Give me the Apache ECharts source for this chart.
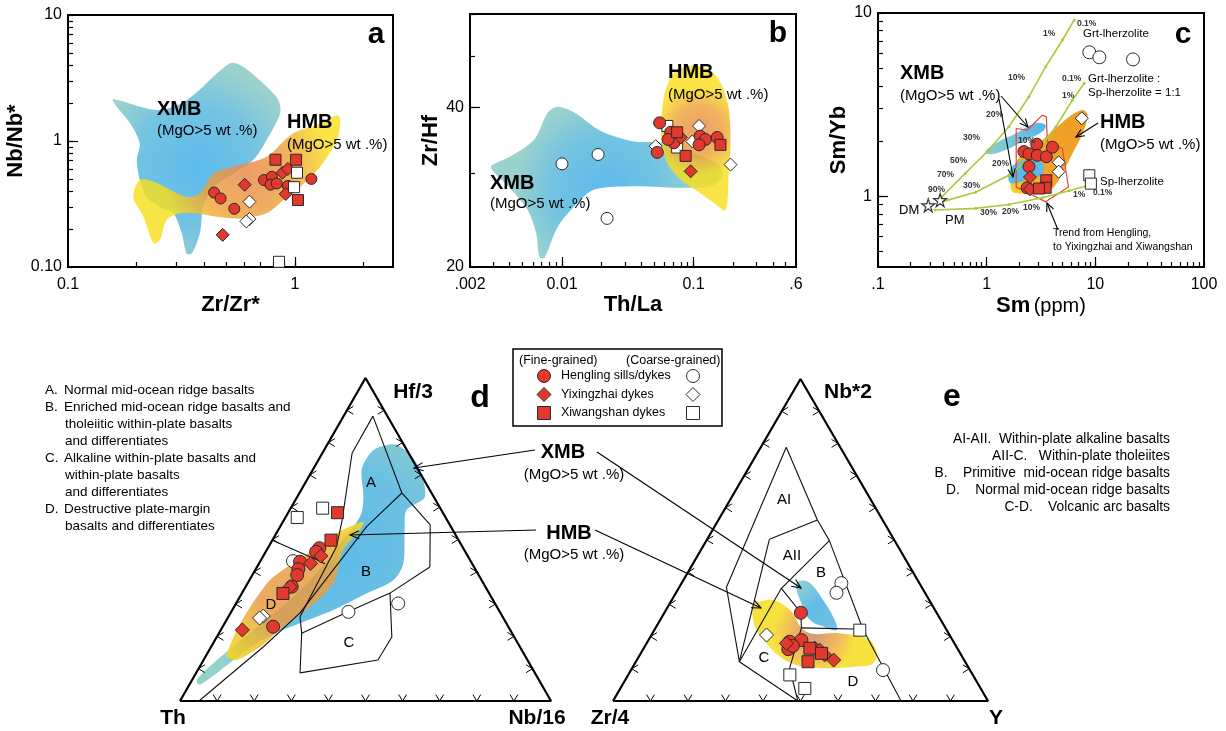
<!DOCTYPE html>
<html><head><meta charset="utf-8">
<script src="https://cdn.jsdelivr.net/npm/echarts/dist/echarts.min.js"></script>
<style>html,body{margin:0;padding:0;background:#fff}#c{width:1226px;height:731px}</style>
</head><body><div id="c"></div>
<script>
// ---------------- DATA ----------------
// Panel a: x = Zr/Zr*, y = Nb/Nb*
const aHenglingFine = [[0.44,0.39],[0.47,0.35],[0.54,0.29],[0.73,0.49],[0.79,0.52],[0.78,0.45],[0.83,0.46],[0.93,0.44],[1.18,0.50]];
const aYixingzhaiFine = [[0.60,0.45],[0.88,0.56],[0.93,0.60],[0.91,0.38],[0.48,0.18]];
const aXiwangshanFine = [[0.82,0.71],[1.01,0.71],[1.03,0.34]];
const aYixingzhaiCoarse = [[0.63,0.33],[0.63,0.24],[0.61,0.23]];
const aXiwangshanCoarse = [[1.02,0.56],[0.99,0.43],[0.85,0.11]];
const aXMB = [[0.158,2.14],[0.246,1.76],[0.333,2.11],[0.517,4.14],[0.59,3.89],[0.75,2.70],[0.845,2.11],[0.86,1.66],[0.75,1.02],[0.655,0.71],[0.535,0.55],[0.437,0.43],[0.394,0.30],[0.381,0.185],[0.351,0.128],[0.333,0.128],[0.317,0.185],[0.291,0.267],[0.254,0.30],[0.222,0.36],[0.207,0.49],[0.201,0.71],[0.207,0.96],[0.188,1.38],[0.164,1.87]];
const aHMB = [[0.207,0.49],[0.238,0.475],[0.333,0.36],[0.381,0.385],[0.437,0.55],[0.535,0.625],[0.75,0.75],[0.98,1.15],[1.29,1.38],[1.53,1.61],[1.58,1.47],[1.53,1.02],[1.29,0.625],[1.05,0.43],[0.89,0.34],[0.75,0.267],[0.57,0.243],[0.452,0.25],[0.369,0.267],[0.311,0.267],[0.272,0.236],[0.254,0.164],[0.238,0.154],[0.215,0.25],[0.194,0.36]];

// Panel b: x = Th/La, y = Zr/Hf
const bHenglingFine = [[0.0552,37.4],[0.067,35.9],[0.071,34.3],[0.064,34.8],[0.053,32.9],[0.112,35.3],[0.123,34.8],[0.110,34.0],[0.151,35.1]];
const bYixingzhaiFine = [[0.080,35.1],[0.095,30.3]];
const bXiwangshanFine = [[0.075,35.9],[0.087,32.4],[0.160,34.0]];
const bHenglingCoarse = [[0.010,31.3],[0.0188,32.6],[0.022,24.7]];
const bYixingzhaiCoarse = [[0.0515,33.8],[0.110,36.9],[0.098,34.5],[0.191,31.2]];
const bXiwangshanCoarse = [[0.0632,36.9],[0.075,33.6]];
const bXMB = [[0.0029,31.0],[0.00411,32.4],[0.00617,34.8],[0.0078,39.1],[0.00927,40.1],[0.0124,39.1],[0.0197,36.1],[0.0353,34.5],[0.0596,34.3],[0.113,32.4],[0.160,31.0],[0.165,29.7],[0.135,28.4],[0.0845,28.2],[0.0353,28.4],[0.0176,28.0],[0.0131,26.4],[0.00927,23.8],[0.00735,20.8],[0.00673,20.9],[0.00636,23.2],[0.0055,25.6],[0.00411,28.0],[0.00307,30.1]];
const bHMB = [[0.0596,42.0],[0.071,46.5],[0.095,47.9],[0.135,46.9],[0.165,43.9],[0.185,39.7],[0.191,34.8],[0.185,30.1],[0.175,25.6],[0.143,26.4],[0.107,27.8],[0.080,29.2],[0.0632,31.4],[0.057,34.8]];

// Panel c: x = Sm (ppm), y = Sm/Yb
const cHenglingFine = [[2.20,1.75],[2.89,1.92],[2.45,1.70],[2.92,1.67],[3.54,1.64],[4.03,1.85],[2.45,1.45],[2.36,1.11]];
const cYixingzhaiFine = [[2.50,1.27],[2.50,1.09]];
const cXiwangshanFine = [[3.54,1.22],[3.49,1.11],[3.03,1.10]];
const cHenglingCoarse = [[8.8,6.10],[10.9,5.73],[22.2,5.58]];
const cYixingzhaiCoarse = [[7.5,2.66],[4.6,1.53],[4.6,1.36]];
const cXiwangshanCoarse = [[8.8,1.30],[9.1,1.17]];
const cMantle = [[0.29,0.89],[0.373,0.95]]; // DM, PM
const cGrtCurve = [[0.386,0.99],[0.635,1.33],[1.04,1.78],[1.60,2.39],[2.45,3.49],[3.49,5.09],[4.98,7.12],[6.39,9.16]];
const cMixCurve = [[0.386,0.93],[0.79,1.05],[1.60,1.30],[2.82,1.71],[4.33,2.39],[6.16,3.35],[7.91,4.13]];
const cSpCurve = [[0.335,0.84],[0.79,0.857],[1.60,0.90],[3.25,0.98],[5.74,1.07],[9.44,1.16]];
const cHMB = [[1.66,1.22],[1.91,1.57],[2.45,1.82],[3.25,2.02],[5.74,2.71],[7.64,2.95],[8.49,2.77],[7.64,2.20],[6.16,1.71],[4.98,1.33],[4.03,1.10],[3.03,1.03],[2.12,1.03],[1.72,1.06]];
const cXMB1 = [[0.97,1.75],[1.20,1.94],[1.85,2.20],[2.82,2.50],[3.49,2.44],[3.25,2.25],[2.28,2.02],[1.60,1.82],[1.20,1.71],[1.01,1.70]];
const cXMB2 = [[1.60,1.33],[1.85,1.51],[2.45,1.57],[3.25,1.51],[3.25,1.33],[2.28,1.22],[1.66,1.18]];
const cTrend = [[1.87,1.12],[1.87,2.34],[2.36,2.29],[3.25,2.77],[3.54,2.71],[3.62,1.98],[4.98,1.82],[5.66,1.12],[3.49,0.93],[2.50,1.03],[1.87,1.12]];

// Panel d ternary: [Hf/3 %, Nb/16 %] (Th = remainder)
const dHenglingFine = [[47.3,13.9],[43.1,10.8],[40.8,11.5],[39.0,12.1],[35.4,12.4],[23.0,13.6],[46.2,13.6]];
const dYixingzhaiFine = [[42.6,13.9],[44.9,15.5],[35.4,12.0],[22.0,5.8]];
const dXiwangshanFine = [[58.3,13.3],[49.8,15.8],[33.3,11.1]];
const dHenglingCoarse = [[27.6,31.6],[30.2,43.7],[43.3,8.8]];
const dYixingzhaiCoarse = [[26.3,9.3],[25.7,8.6]];
const dXiwangshanCoarse = [[56.8,3.2],[59.7,8.6]];
const dFieldLines = [
  [[88.2,7.9],[76.8,8.0],[56.0,15.7],[47.8,18.3],[26.1,19.3],[21.0,22.3],[8.7,28.0]],
  [[8.7,28.0],[12.7,47.0],[19.8,47.2],[33.4,39.9]],
  [[21.0,22.3],[27.6,31.5],[33.4,39.9],[41.5,46.6]],
  [[88.2,7.9],[64.4,27.6],[54.5,40.2],[41.5,46.6]],
  [[64.4,27.6],[54.0,23.3],[27.2,18.7],[16.8,14.1],[0,5.1]],
  [[49.8,0],[43.7,15.0],[42.5,17.8]]
];
const dXMB = [[78.7,14.5],[79.3,18.8],[73.6,27.0],[63.3,34.4],[59.1,31.5],[52.9,34.1],[42.6,38.9],[37.5,38.8],[33.3,33.6],[28.2,27.2],[24.1,20.3],[19.9,13.4],[12.7,8.1],[5.0,2.9],[6.5,1.25],[12.7,3.6],[22.0,8.8],[32.3,14.4],[40.6,17.4],[48.8,18.7],[57.1,20.0],[63.3,17.8],[71.5,13.2],[76.7,12.9]];
const dHMB = [[14.8,5.2],[24.1,4.2],[36.4,5.2],[40.6,7.5],[46.7,12.5],[51.9,16.2],[55.5,21.6],[52.9,22.0],[46.7,20.6],[36.4,23.1],[29.2,20.4],[23.0,16.3],[16.8,13.2],[12.7,8.9],[13.7,5.7]];

// Panel e ternary: [Nb*2 %, Y %] (Zr/4 = remainder)
const eHenglingFine = [[27.4,36.4],[18.9,40.8],[18.4,37.9],[16.1,38.7],[17.1,39.4]];
const eYixingzhaiFine = [[17.9,37.3],[16.4,45.6],[15.8,47.2],[14.3,49.3],[12.7,52.5]];
const eXiwangshanFine = [[16.4,44.3],[12.2,45.9],[14.8,48.2]];
const eHenglingCoarse = [[36.6,42.6],[33.6,42.8],[9.6,67.2]];
const eYixingzhaiCoarse = [[20.5,30.7]];
const eXiwangshanCoarse = [[22.0,54.8],[8.1,43.1],[3.9,49.2]];
const eFieldLines = [
  [[78.8,6.8],[35.3,12.6],[12.2,27.6],[0,49.3]],
  [[78.8,6.8],[56.2,26.4],[49.8,32.8],[22.3,55.5],[0,76.8]],
  [[50.2,16.6],[56.2,26.4]],
  [[50.2,16.6],[12.2,27.6]],
  [[49.8,32.8],[35.0,27.4],[12.2,27.6]],
  [[35.0,27.4],[27.4,36.4],[22.7,38.9],[10.2,42.0],[0,49.3]],
  [[22.7,38.9],[22.3,55.5]]
];
const eXMB = [[36.6,30.6],[37.0,33.5],[31.4,40.3],[25.2,46.5],[22.0,48.6],[23.1,44.5],[25.2,39.9],[30.3,35.1]];
const eHMB = [[29.8,22.5],[30.8,23.7],[31.4,27.0],[28.3,33.0],[21.5,40.8],[21.0,50.0],[19.5,57.8],[15.8,62.3],[11.7,63.5],[10.7,59.6],[10.2,50.9],[11.2,43.3],[13.8,37.6],[17.9,32.0],[23.1,26.3]];

// ---------------- HELPERS ----------------
const FONT = "'Liberation Sans', Arial, Helvetica, sans-serif";
const RED = '#e2382e', EDGE = '#2a2a2a';
const tern = p => [p[1]/100 + p[0]/200, p[0]/100];
const ternAll = arr => arr.map(tern);

function logTicks(lo, hi){ const out=[]; for(let e=-4;e<=3;e++){ for(let m=1;m<10;m++){ const v=+(m*Math.pow(10,e)).toPrecision(6); if(v>=lo*0.999&&v<=hi*1.001) out.push(v);} } return out; }
function fmt(map){ return v => { for (const k in map){ if (Math.abs(v-(+k))/(+k) < 1e-4) return map[k]; } return ''; }; }

function logAxis(gi, min, max, ticks, labels, name, gap, isY, extra){
  return Object.assign({
    gridIndex: gi, type:'log', logBase:10, min, max,
    axisLine:{show:true, onZero:false, lineStyle:{color:'#000', width:2}},
    axisTick:{show:true, inside:true, length:5, customValues:ticks, lineStyle:{color:'#000', width:1.2}},
    axisLabel:{show:true, customValues:Object.keys(labels).map(Number), formatter:fmt(labels), color:'#000', fontSize:16, fontFamily:FONT, margin: isY?6:10},
    splitLine:{show:false},
    name, nameLocation:'middle', nameGap:gap,
    nameTextStyle:{fontWeight:'bold', fontSize:22, color:'#000', fontFamily:FONT}
  }, extra||{});
}
// overlay axis carrying only the longer decade ticks
function majorAxis(gi, min, max, ticks, pos){
  return {gridIndex:gi, type:'log', logBase:10, min, max, position:pos,
    axisLine:{show:false}, axisLabel:{show:false}, splitLine:{show:false},
    axisTick:{show:true, inside:true, length:10, customValues:ticks, lineStyle:{color:'#000', width:1.2}}};
}
function valAxis(gi){ return {gridIndex:gi, type:'value', min:0, max:1, show:false}; }

function sc(gi, data, kind, filled, size){
  const sym = {c:'circle', d:'diamond', s:'rect'}[kind];
  const sz = kind==='d' ? size+2 : (kind==='s' ? size-1 : size);
  return {type:'scatter', xAxisIndex:gi, yAxisIndex:gi, data, symbol:sym, symbolSize:sz, z:5, silent:true,
    itemStyle:{color: filled?RED:'#fff', borderColor:EDGE, borderWidth:1, opacity:1}};
}
function poly(gi, pts, fill, opacity, smooth, z){
  return {type:'custom', xAxisIndex:gi, yAxisIndex:gi, coordinateSystem:'cartesian2d', data:[pts[0]], silent:true, z:z||1,
    renderItem:(params, api) => ({type:'polygon', shape:{points: pts.map(p => api.coord(p)), smooth: smooth}, style:{fill, opacity, stroke:null}})};
}
function outline(gi, pts, color, width, z){
  return {type:'line', xAxisIndex:gi, yAxisIndex:gi, data:pts, symbol:'none', silent:true, z:z||2,
    lineStyle:{color, width}};
}
const blueGrad = () => ({type:'radial', x:0.5, y:0.55, r:0.6, colorStops:[{offset:0,color:'#55b8ec'},{offset:0.6,color:'#6cc0e0'},{offset:1,color:'#93cfcb'}]});
const hmbGrad = () => ({type:'radial', x:0.55, y:0.45, r:0.65, colorStops:[{offset:0,color:'#e8874a'},{offset:0.55,color:'#eea23a'},{offset:1,color:'#f7df1d'}]});

function chev(p, ang){ const L=7.5, s=0.55; return {type:'polyline', shape:{points:[[p[0]+L*Math.cos(ang-s), p[1]+L*Math.sin(ang-s)], p, [p[0]+L*Math.cos(ang+s), p[1]+L*Math.sin(ang+s)]]}, style:{stroke:'#000', lineWidth:1, fill:null}}; }
function ternFrame(gi){
  return [
    {type:'line', xAxisIndex:gi, yAxisIndex:gi, data:[[0,0],[1,0],[0.5,1],[0,0]], symbol:'none', silent:true, z:4, lineStyle:{color:'#000', width:2.2}},
    {type:'custom', xAxisIndex:gi, yAxisIndex:gi, coordinateSystem:'cartesian2d', data:[[0,0]], silent:true, z:4,
      renderItem:(params, api) => {
        const A=api.coord([0,0]), B=api.coord([1,0]), C=api.coord([0.5,1]); const ch=[];
        for (let i=1;i<=9;i++){ const t=i/10;
          ch.push(chev([A[0]+(B[0]-A[0])*t, A[1]], -Math.PI/2));
          ch.push(chev([A[0]+(C[0]-A[0])*t, A[1]+(C[1]-A[1])*t], 0));
          ch.push(chev([B[0]+(C[0]-B[0])*t, B[1]+(C[1]-B[1])*t], Math.PI));
        }
        return {type:'group', children:ch};
      }}
  ];
}
function T(x,y,text,size,o){ o=o||{}; return {type:'text', x, y, z:100, silent:true,
  style:{text, font:(o.bold?'bold ':'')+size+'px '+FONT, fill:o.color||'#000', align:o.align||'left', verticalAlign:o.valign||'middle'}}; }
function arrow(x1,y1,x2,y2,head,w){ head=head||8; w=w||1.1; const a=Math.atan2(y2-y1,x2-x1), s=0.42;
  return [{type:'polyline', z:100, silent:true, shape:{points:[[x1,y1],[x2,y2]]}, style:{stroke:'#000', lineWidth:w, fill:null}},
          {type:'polyline', z:100, silent:true, shape:{points:[[x2-head*Math.cos(a-s), y2-head*Math.sin(a-s)],[x2,y2],[x2-head*Math.cos(a+s), y2-head*Math.sin(a+s)]]}, style:{stroke:'#000', lineWidth:w, fill:null}}]; }

// ---------------- OPTION ----------------
const grids = [
  {left:68, top:15, width:325, height:252},
  {left:470, top:14, width:326, height:253},
  {left:878, top:13, width:326, height:254},
  {left:180, top:378, width:371, height:323},
  {left:613, top:379, width:375, height:322}
].map((g,i) => Object.assign(g, i<3 ? {show:true, borderColor:'#000', borderWidth:2, backgroundColor:'transparent'} : {show:false}));

const xAxes = [
  logAxis(0, 0.1, 2.7, logTicks(0.1,2.7), {0.1:'0.1', 1:'1'}, 'Zr/Zr*', 24, false),
  logAxis(1, 0.002, 0.6, logTicks(0.002,0.6), {0.002:'.002', 0.01:'0.01', 0.1:'0.1', 0.6:'.6'}, 'Th/La', 22, false),
  logAxis(2, 0.1, 100, logTicks(0.1,100), {0.1:'.1', 1:'1', 10:'10', 100:'100'}, '{b|Sm} {n|(ppm)}', 28, false,
    {nameTextStyle:{rich:{b:{fontWeight:'bold', fontSize:22, fontFamily:FONT, color:'#000'}, n:{fontSize:20, fontFamily:FONT, color:'#000'}}}}),
  valAxis(3), valAxis(4),
  majorAxis(0, 0.1, 2.7, [1], 'bottom'),
  majorAxis(1, 0.002, 0.6, [0.01,0.1], 'bottom'),
  majorAxis(2, 0.1, 100, [1,10], 'bottom')
];
const yAxes = [
  logAxis(0, 0.1, 10, logTicks(0.1,10), {0.1:'0.10', 1:'1', 10:'10'}, 'Nb/Nb*', 40, true),
  logAxis(1, 20, 60, [20,30,40,50,60], {20:'20', 40:'40'}, 'Zr/Hf', 26, true),
  logAxis(2, 0.41, 10, logTicks(0.41,10), {1:'1', 10:'10'}, 'Sm/Yb', 20, true),
  valAxis(3), valAxis(4),
  majorAxis(0, 0.1, 10, [1], 'left'),
  majorAxis(1, 20, 60, [40], 'left'),
  majorAxis(2, 0.41, 10, [1], 'left')
];

const series = [
  // a
  poly(0, aXMB, blueGrad(), 0.95, 0.3, 1),
  poly(0, aHMB, hmbGrad(), 0.82, 0.3, 2),
  sc(0, aHenglingFine, 'c', true, 11), sc(0, aYixingzhaiFine, 'd', true, 11), sc(0, aXiwangshanFine, 's', true, 12),
  sc(0, aYixingzhaiCoarse, 'd', false, 11), sc(0, aXiwangshanCoarse, 's', false, 12),
  // b
  poly(1, bXMB, blueGrad(), 0.95, 0.3, 1),
  poly(1, bHMB, hmbGrad(), 0.82, 0.3, 2),
  sc(1, bHenglingCoarse, 'c', false, 12), sc(1, bYixingzhaiCoarse, 'd', false, 11), sc(1, bXiwangshanCoarse, 's', false, 12),
  sc(1, bHenglingFine, 'c', true, 12), sc(1, bYixingzhaiFine, 'd', true, 11), sc(1, bXiwangshanFine, 's', true, 12),
  // c
  poly(2, cHMB, {type:'linear', x:0, y:1, x2:1, y2:0, colorStops:[{offset:0,color:'#f5d21c'},{offset:0.3,color:'#f2a21e'},{offset:1,color:'#ee961a'}]}, 0.95, 0.3, 1),
  poly(2, cXMB1, {type:'linear', x:0, y:0.5, x2:1, y2:0.5, colorStops:[{offset:0,color:'#8fd0cf'},{offset:1,color:'#56b6e6'}]}, 1, 0.4, 2),
  poly(2, cXMB2, '#5cb9e8', 1, 0.4, 2),
  outline(2, cTrend, '#e6453a', 1.2, 3),
  {type:'line', xAxisIndex:2, yAxisIndex:2, data:cGrtCurve, symbol:'circle', symbolSize:3, silent:true, z:3, itemStyle:{color:'#a6cc3c'}, lineStyle:{color:'#a6cc3c', width:1.6}},
  {type:'line', xAxisIndex:2, yAxisIndex:2, data:cMixCurve, symbol:'circle', symbolSize:3, silent:true, z:3, itemStyle:{color:'#a6cc3c'}, lineStyle:{color:'#a6cc3c', width:1.6}},
  {type:'line', xAxisIndex:2, yAxisIndex:2, data:cSpCurve, symbol:'circle', symbolSize:3, silent:true, z:3, itemStyle:{color:'#a6cc3c'}, lineStyle:{color:'#a6cc3c', width:1.6}},
  {type:'scatter', xAxisIndex:2, yAxisIndex:2, data:cMantle, silent:true, z:6, symbol:'path://M50,0 L61,35 L98,35 L68,57 L79,91 L50,70 L21,91 L32,57 L2,35 L39,35 Z', symbolSize:13, itemStyle:{color:'#fff', borderColor:'#000', borderWidth:1.2}},
  sc(2, cHenglingCoarse, 'c', false, 13), sc(2, cYixingzhaiCoarse, 'd', false, 11), sc(2, cXiwangshanCoarse, 's', false, 12),
  sc(2, cHenglingFine, 'c', true, 12), sc(2, cYixingzhaiFine, 'd', true, 11), sc(2, cXiwangshanFine, 's', true, 12),
  // d
  poly(3, ternAll(dXMB), {type:'radial', x:0.6, y:0.45, r:0.7, colorStops:[{offset:0,color:'#55b7e8'},{offset:0.55,color:'#64bde0'},{offset:1,color:'#8fcfc8'}]}, 0.95, 0.3, 1),
  poly(3, ternAll(dHMB), {type:'linear', x:0, y:1, x2:1, y2:0, colorStops:[{offset:0,color:'#f5dc1a'},{offset:0.35,color:'#e99a45'},{offset:0.7,color:'#e8a040'},{offset:1,color:'#f6e21a'}]}, 0.85, 0.3, 2),
  ...dFieldLines.map(l => outline(3, ternAll(l), '#111', 1.1, 3)),
  ...ternFrame(3),
  sc(3, ternAll(dHenglingCoarse), 'c', false, 13), sc(3, ternAll(dYixingzhaiCoarse), 'd', false, 12), sc(3, ternAll(dXiwangshanCoarse), 's', false, 13),
  sc(3, ternAll(dHenglingFine), 'c', true, 13), sc(3, ternAll(dYixingzhaiFine), 'd', true, 12), sc(3, ternAll(dXiwangshanFine), 's', true, 13),
  // e
  poly(4, ternAll(eXMB), {type:'linear', x:0, y:0, x2:1, y2:1, colorStops:[{offset:0,color:'#8ecfcc'},{offset:0.5,color:'#5ab9e6'},{offset:1,color:'#6cc0e0'}]}, 0.95, 0.4, 1),
  poly(4, ternAll(eHMB), {type:'radial', x:0.5, y:0.5, r:0.6, colorStops:[{offset:0,color:'#c98a5a'},{offset:0.5,color:'#eaa548'},{offset:1,color:'#f6dc1c'}]}, 0.85, 0.4, 2),
  ...eFieldLines.map(l => outline(4, ternAll(l), '#111', 1.1, 3)),
  ...ternFrame(4),
  sc(4, ternAll(eHenglingCoarse), 'c', false, 13), sc(4, ternAll(eYixingzhaiCoarse), 'd', false, 12), sc(4, ternAll(eXiwangshanCoarse), 's', false, 13),
  sc(4, ternAll(eHenglingFine), 'c', true, 13), sc(4, ternAll(eYixingzhaiFine), 'd', true, 12), sc(4, ternAll(eXiwangshanFine), 's', true, 13)
];

const g = [];
// panel a
g.push(T(157,109,'XMB',20,{bold:true}), T(157,131,'(MgO>5 wt .%)',15), T(287,122,'HMB',20,{bold:true}), T(287,145,'(MgO>5 wt .%)',15), T(376,35,'a',30,{bold:true,align:'center'}));
// panel b
g.push(T(668,72,'HMB',20,{bold:true}), T(668,95,'(MgO>5 wt .%)',15), T(490,183,'XMB',20,{bold:true}), T(490,204,'(MgO>5 wt .%)',15), T(778,34,'b',30,{bold:true,align:'center'}));
// panel c
g.push(T(900,73,'XMB',20,{bold:true}), T(900,96,'(MgO>5 wt .%)',15), T(1100,122,'HMB',20,{bold:true}), T(1100,145,'(MgO>5 wt .%)',15), T(1183,35,'c',30,{bold:true,align:'center'}));
g.push(T(1083,34,'Grt-lherzolite',11.5), T(1088,79,'Grt-lherzolite :',11.5), T(1088,93,'Sp-lherzolite = 1:1',11.5), T(1100,182,'Sp-lherzolite',11.5));
g.push(T(899,210,'DM',13), T(945,220,'PM',13), T(1053,233,'Trend from Hengling,',10.5), T(1053,247,'to Yixingzhai and Xiwangshan',10.5));
[[1077,24,'0.1%'],[1043,34,'1%'],[1008,78,'10%'],[986,115,'20%'],[963,138,'30%'],[950,161,'50%'],[937,175,'70%'],[928,190,'90%'],
 [1062,79,'0.1%'],[1062,96,'1%'],[1018,141,'10%'],[992,164,'20%'],[963,186,'30%'],[980,213,'30%'],[1002,212,'20%'],[1023,208,'10%'],[1073,195,'1%'],[1093,193,'0.1%']]
 .forEach(l => g.push(T(l[0],l[1],l[2],8.5,{bold:true,color:'#333'})));
g.push(...arrow(1001,96,1028,127,9), ...arrow(999,99,1013,177,9), ...arrow(1098,123,1076,137,9), ...arrow(1058,230,1047,203,9));
// panel d
[['A.',390,'Normal mid-ocean ridge basalts'],['B.',407,'Enriched mid-ocean ridge basalts and'],['',424,'tholeiitic within-plate basalts'],['',441,'and differentiates'],
 ['C.',458,'Alkaline within-plate basalts and'],['',475,'within-plate basalts'],['',492,'and differentiates'],['D.',509,'Destructive plate-margin'],['',526,'basalts and differentiates']]
 .forEach(r => { if (r[0]) g.push(T(45,r[1],r[0],13.5)); g.push(T(r[0]?64:65,r[1],r[2],13.5)); });
g.push(T(413,392,'Hf/3',21,{bold:true,align:'center'}), T(173,718,'Th',21,{bold:true,align:'center'}), T(537,718,'Nb/16',21,{bold:true,align:'center'}), T(480,398,'d',32,{bold:true,align:'center'}));
g.push(T(371,483,'A',15,{align:'center'}), T(366,572,'B',15,{align:'center'}), T(349,643,'C',15,{align:'center'}), T(271,605,'D',15,{align:'center'}));
// middle annotations
g.push(T(563,452,'XMB',20,{bold:true,align:'center'}), T(574,475,'(MgO>5 wt .%)',15,{align:'center'}), T(569,533,'HMB',20,{bold:true,align:'center'}), T(574,555,'(MgO>5 wt .%)',15,{align:'center'}));
g.push(...arrow(535,450,414,468,10), ...arrow(597,452,801,588,10), ...arrow(536,530,350,535,10), ...arrow(595,530,761,608,10));
// panel e
g.push(T(848,392,'Nb*2',21,{bold:true,align:'center'}), T(610,718,'Zr/4',21,{bold:true,align:'center'}), T(996,718,'Y',21,{bold:true,align:'center'}), T(952,397,'e',32,{bold:true,align:'center'}));
g.push(T(784,500,'AI',15,{align:'center'}), T(792,556,'AII',15,{align:'center'}), T(821,573,'B',15,{align:'center'}), T(764,658,'C',15,{align:'center'}), T(853,682,'D',15,{align:'center'}));
[['AI-AII.  Within-plate alkaline basalts',439],['AII-C.   Within-plate tholeiites',456],['B.    Primitive  mid-ocean ridge basalts',473],['D.    Normal mid-ocean ridge basalts',490],['C-D.    Volcanic arc basalts',507]]
 .forEach(r => g.push(T(1170,r[1],r[0],13.8,{align:'right'})));
// legend
g.push({type:'rect', z:90, silent:true, shape:{x:513,y:349,width:209,height:77}, style:{fill:'#fff', stroke:'#000', lineWidth:1.5}});
g.push(T(519,361,'(Fine-grained)',12.5), T(626,361,'(Coarse-grained)',12.5));
const legRows = [['Hengling sills/dykes',376,'c'],['Yixingzhai dykes',394.5,'d'],['Xiwangshan dykes',413,'s']];
legRows.forEach(r => {
  g.push(T(561,r[1],r[0],12.5));
  [[544,RED],[693,'#fff']].forEach(m => {
    const cx=m[0], cy=r[1], st={fill:m[1], stroke:EDGE, lineWidth:1};
    if (r[2]==='c') g.push({type:'circle', z:95, silent:true, shape:{cx,cy,r:6.5}, style:st});
    else if (r[2]==='d') g.push({type:'polygon', z:95, silent:true, shape:{points:[[cx,cy-7],[cx+7,cy],[cx,cy+7],[cx-7,cy]]}, style:st});
    else g.push({type:'rect', z:95, silent:true, shape:{x:cx-6.5,y:cy-6.5,width:13,height:13}, style:st});
  });
});

const chart = echarts.init(document.getElementById('c'), null, {renderer:'canvas'});
chart.setOption({
  animation:false, backgroundColor:'#fff',
  textStyle:{fontFamily:FONT},
  grid:grids, xAxis:xAxes, yAxis:yAxes, series, graphic:g
});
</script></body></html>
